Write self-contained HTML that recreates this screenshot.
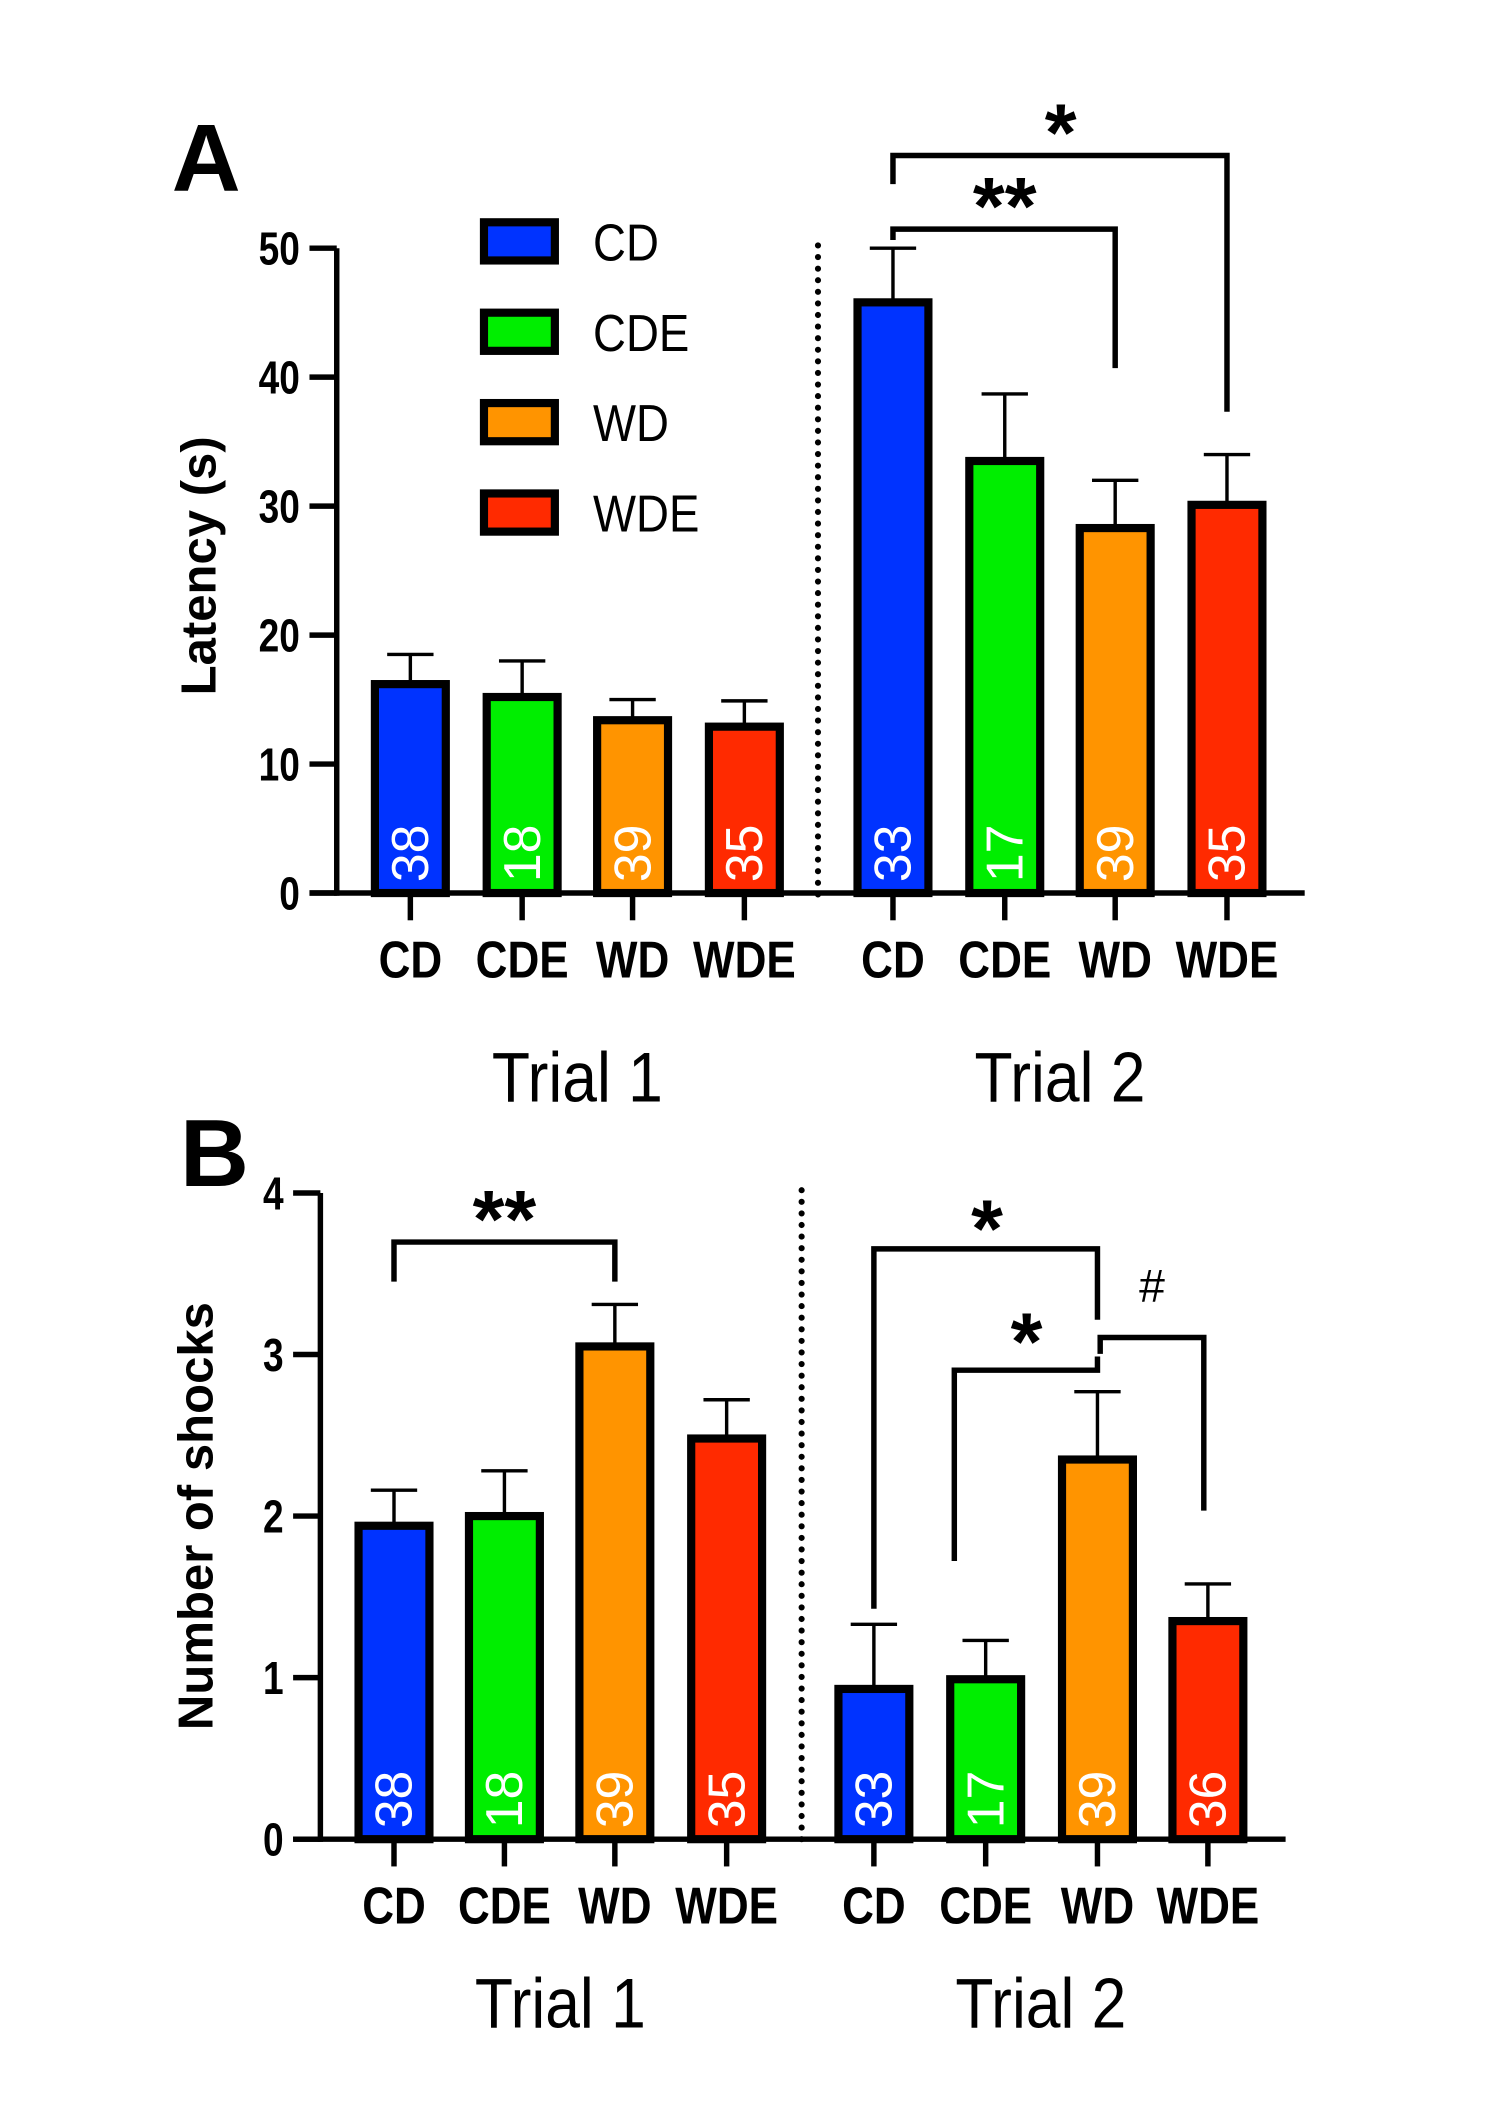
<!DOCTYPE html>
<html><head><meta charset="utf-8"><style>
html,body{margin:0;padding:0;background:#fff;}
svg{display:block;}
text{font-family:"Liberation Sans",sans-serif;}
</style></head><body>
<svg id="fig" width="1501" height="2101" viewBox="0 0 1101 1541" xmlns="http://www.w3.org/2000/svg"></svg>
<script>
const groups = ["CD","CDE","WD","WDE"];
const colors = ["#0033ff","#00ee00","#ff9400","#ff2a00"];
const latencyT1 = [16.2, 15.2, 13.4, 12.9];
const latencyT2 = [45.8, 33.5, 28.3, 30.1];
const latencyErrT1 = [18.5, 18.0, 15.0, 14.9];
const latencyErrT2 = [50.0, 38.7, 32.0, 34.0];
const latencyN_T1 = ["38","18","39","35"];
const latencyN_T2 = ["33","17","39","35"];
const latencyTicks = [0,10,20,30,40,50];
const shocksT1 = [1.94, 2.0, 3.05, 2.48];
const shocksT2 = [0.93, 0.99, 2.35, 1.35];
const shocksErrT1 = [2.16, 2.28, 3.31, 2.72];
const shocksErrT2 = [1.33, 1.23, 2.77, 1.58];
const shocksN_T1 = ["38","18","39","35"];
const shocksN_T2 = ["33","17","39","36"];
const shocksTicks = [0,1,2,3,4];

const NS="http://www.w3.org/2000/svg";
const svg=document.getElementById('fig');
function el(tag,attrs,parent,txt){const e=document.createElementNS(NS,tag);for(const k in attrs)e.setAttribute(k,attrs[k]);if(txt!==undefined)e.textContent=txt;(parent||svg).appendChild(e);return e;}
function txt(x,y,sx,attrs,parent,s){const a=Object.assign({transform:`translate(${x},${y}) scale(${sx},1)`},attrs);return el('text',a,parent,s);}

function panel(cfg){
  const g=el('g',{});
  
  
  const y=v=>cfg.y0-(v-cfg.vmin)/(cfg.vmax-cfg.vmin)*(cfg.y0-cfg.ytop);
  const ya=el('line',{x1:cfg.ax,y1:cfg.ytop,x2:cfg.ax,y2:cfg.y0+2,stroke:'#000','stroke-width':4},g);
  
  
  cfg.ticks.forEach(t=>{
    el('line',{x1:cfg.ax-20,y1:y(t),x2:cfg.ax,y2:y(t),stroke:'#000','stroke-width':4},g);
    const tl=txt(cfg.ax-27,y(t)+12,0.8,{'text-anchor':'end','font-size':34,'font-weight':'bold'},g,String(t));
    
    
  });
  const xa=el('line',{x1:cfg.ax-20,y1:cfg.y0,x2:cfg.xend,y2:cfg.y0,stroke:'#000','stroke-width':4},g);
  
  
  const yt=el('text',{transform:`translate(${cfg.ytx},${cfg.yty}) rotate(-90)`,'text-anchor':'middle','font-size':36,'font-weight':'bold'},g,cfg.ytitle);
  
  
  const dl=el('line',{x1:cfg.dotx,y1:cfg.ytop-2,x2:cfg.dotx,y2:cfg.y0+5,stroke:'#000','stroke-width':4.5,'stroke-dasharray':'0 8.5','stroke-linecap':'round'},g);
  
  
  const trials=[[cfg.t1,cfg.e1,cfg.n1,cfg.c1],[cfg.t2,cfg.e2,cfg.n2,cfg.c2]];
  trials.forEach((tr,ti)=>{
    tr[0].forEach((v,i)=>{
      const cx=tr[3][i];const w=cfg.bw;
      const ey=y(tr[1][i]);
      const eb=el('path',{d:`M${cx},${y(v)} V${ey} M${cx-17},${ey} H${cx+17}`,stroke:'#000','stroke-width':2.5,fill:'none'},g);
      
      
      const r=el('rect',{x:cx-w/2,y:y(v),width:w,height:cfg.y0-y(v),fill:colors[i],stroke:'#000','stroke-width':6},g);
      
      
      const nt=el('text',{transform:`translate(${cx+13},${cfg.y0-8}) rotate(-90)`,'font-size':38,fill:'#fff'},g,tr[2][i]);
      
      
      el('line',{x1:cx,y1:cfg.y0,x2:cx,y2:cfg.y0+20,stroke:'#000','stroke-width':4},g);
      const xl=txt(cx,cfg.y0+62,0.85,{'text-anchor':'middle','font-size':38,'font-weight':'bold'},g,groups[i]);
      
      
    });
    const mid=(tr[3][0]+tr[3][3])/2;
    const tt=txt(mid,cfg.trialY,0.88,{'text-anchor':'middle','font-size':52},g,'Trial '+(ti+1));
    
    
  });
  const pl=el('text',{x:cfg.lx,y:cfg.ly,'font-size':70,'font-weight':'bold'},g,cfg.letter);
  
  
  cfg.brackets.forEach(b=>{
    const p=el('path',{d:`M${b[0]},${b[2]} V${b[1]} H${b[3]} V${b[4]}`,stroke:'#000','stroke-width':4,fill:'none'},g);
    
    
    const s=el('text',{x:b[5],y:b[6],'text-anchor':'middle','font-size':b[7]==='#'?34:60,'font-weight':b[7]==='#'?'normal':'bold'},g,b[7]);
    
    
  });
  return g;
}

panel({name:'panel-a-latency',letter:'A',lx:126,ly:140,ax:247,ytop:182,y0:655,vmin:0,vmax:50,xend:957,ticks:latencyTicks,
  ytitle:'Latency (s)',ytx:158,yty:415,dotx:600,bw:52,
  t1:latencyT1,e1:latencyErrT1,n1:latencyN_T1,c1:[301,383,464,546],
  t2:latencyT2,e2:latencyErrT2,n2:latencyN_T2,c2:[655,737,818,900],trialY:808,
  brackets:[[655,114,135,900,302,778,118,'*'],[655,168,176,818,270,737,172,'**']]});

panel({name:'panel-b-shocks',letter:'B',lx:132,ly:870,ax:235,ytop:875,y0:1349,vmin:0,vmax:4,xend:943,ticks:shocksTicks,
  ytitle:'Number of shocks',ytx:156,yty:1112,dotx:588,bw:52,
  t1:shocksT1,e1:shocksErrT1,n1:shocksN_T1,c1:[289,370,451,533],
  t2:shocksT2,e2:shocksErrT2,n2:shocksN_T2,c2:[641,723,805,886],trialY:1487,
  brackets:[[289,911,940,451,940,370,915,'**'],[641,916,1180,805,968,724,922,'*'],[700,1005,1145,805,995,753,1005,'*'],[807,981,993,883,1108,845,955,'#']]});

const legendNames=["CD","CDE","WD","WDE"];
const lg=el('g',{});


legendNames.forEach((n,i)=>{
  const cy=177+i*66.3;
  const r=el('rect',{x:355,y:cy-14,width:52,height:28,fill:colors[i],stroke:'#000','stroke-width':6},lg);
  
  
  const t=txt(435,cy+14,0.88,{'font-size':38},lg,n);
  
  
});
</script>
</body></html>
